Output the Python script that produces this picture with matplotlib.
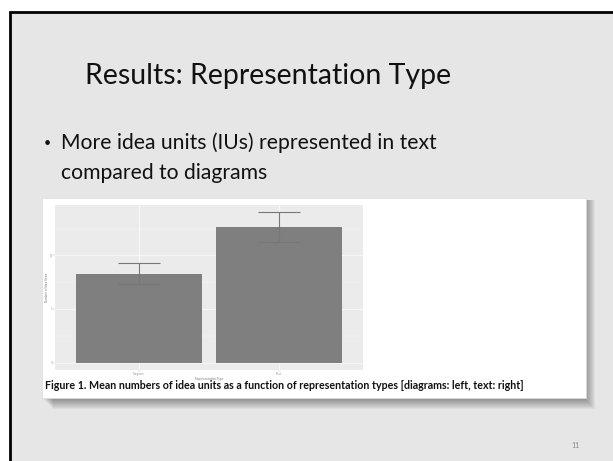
import matplotlib.pyplot as plt
from matplotlib.patches import Rectangle
import numpy as np

# data
categories = ["Diagram", "Text"]
means = [8.3, 12.6]
errors = [0.98, 1.4]
yticks = [0, 5, 10]

W, H = 613, 461


def fx(x):
    return x / W


def fy(y):
    return 1 - y / H


fig = plt.figure(figsize=(W / 100, H / 100), dpi=100)
fig.patch.set_facecolor("white")

# slide background with border
fig.patches.append(Rectangle((fx(10), fy(470)), fx(620) - fx(10), fy(12) - fy(470),
                             transform=fig.transFigure, facecolor="#e6e6e6",
                             edgecolor="black", linewidth=2, zorder=0))

# soft shadow behind the figure picture
for i in range(10):
    d = i * 1.0
    fig.patches.append(Rectangle((fx(44 + d), fy(400 + d)), fx(586 + d) - fx(44 + d), fy(200) - fy(400 + d),
                                 transform=fig.transFigure, facecolor="black",
                                 edgecolor="none", alpha=0.04, zorder=1))
# white picture box
fig.patches.append(Rectangle((fx(42), fy(398)), fx(586) - fx(42), fy(198) - fy(398),
                             transform=fig.transFigure, facecolor="white",
                             edgecolor="#dddddd", linewidth=0.5, zorder=2))

font = ["Lato", "DejaVu Sans"]
fig.text(fx(268), fy(76), "Results: Representation Type", ha="center", va="center",
         fontsize=20.5, family=font, color="#111111")
fig.text(fx(47), fy(143), "\u2022", ha="center", va="center", fontsize=9, family=font, color="#111111")
fig.text(fx(61), fy(143), "More idea units (IUs) represented in text", ha="left", va="center",
         fontsize=15.2, family=font, color="#111111")
fig.text(fx(61), fy(173), "compared to diagrams", ha="left", va="center",
         fontsize=15.2, family=font, color="#111111")
fig.text(fx(45), fy(385), "Figure 1. Mean numbers of idea units as a function of representation types "
         "[diagrams: left, text: right]", ha="left", va="center", fontsize=7.7,
         family=font, weight="bold", color="#111111")
fig.text(fx(576), fy(445), "11", ha="center", va="center", fontsize=5, family=font, color="#888888")

# ggplot-like bar chart
ax = fig.add_axes([fx(55), fy(370), fx(363) - fx(55), fy(205) - fy(370)], zorder=3)
ax.set_facecolor("#ebebeb")
x = np.arange(1, len(categories) + 1)
for yv in np.arange(0, 15, 2.5):
    ax.axhline(yv, color="white", linewidth=0.4 if yv % 5 == 0 else 0.2, zorder=0)
for xv in x:
    ax.axvline(xv, color="white", linewidth=0.5, zorder=0)
ax.bar(x, means, width=0.9, color="#7f7f7f", zorder=2)
ax.errorbar(x, means, yerr=errors, fmt="none", ecolor="#777777", elinewidth=0.8,
            capsize=14.8, capthick=0.8, zorder=3)
ax.set_xlim(0.4, 2.6)
ax.set_ylim(-0.7, 14.7)
ax.set_xticks(x)
ax.set_xticklabels(categories, fontsize=2, color="#999999")
ax.set_yticks(yticks)
ax.set_yticklabels([str(t) for t in yticks], fontsize=2, color="#999999")
ax.tick_params(length=1.2, width=0.3, color="#bbbbbb", pad=0.5)
ax.set_xlabel("Representation Type", fontsize=2, color="#777777", labelpad=0.3)
ax.set_ylabel("Number of Idea Units", fontsize=2, color="#777777", labelpad=0.5)
for s in ax.spines.values():
    s.set_visible(False)

fig.savefig("out.png", dpi=100)
